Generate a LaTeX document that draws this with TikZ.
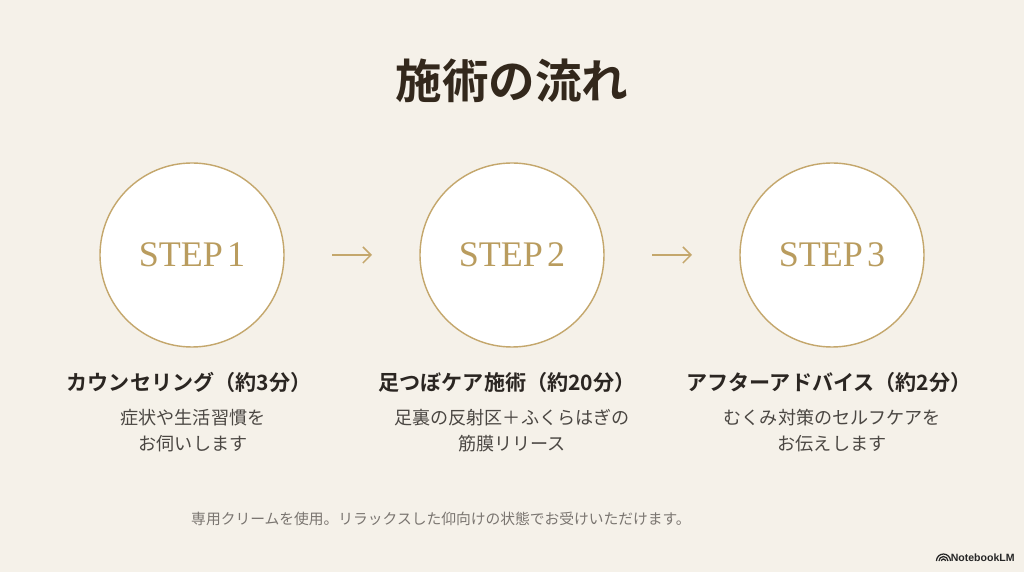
\documentclass[tikz,border=0pt]{standalone}
\usepackage{fontspec}
\setmainfont{Noto Sans CJK JP}[BoldFont={Noto Sans CJK JP Bold}]
\newfontfamily\stepfont{Liberation Serif}
\newfontfamily\logofont{Liberation Sans}
\usetikzlibrary{arrows.meta,positioning}
\definecolor{flowcream}{HTML}{F5F1E9}
\definecolor{flowgold}{HTML}{C4A76C}
\definecolor{flowstep}{HTML}{B99C5E}
\definecolor{flowink}{HTML}{33281C}
\definecolor{flowtext}{HTML}{2B2622}
\definecolor{flowgray}{HTML}{4B4743}
\definecolor{flowfoot}{HTML}{7A7570}
\newcommand{\steplabel}[1]{STEP\hspace{0.12em}#1}
\tikzset{
  heading/.style={font=\fontsize{26.5}{30}\selectfont\bfseries, text=flowink, inner sep=0pt},
  stepcircle/.style={circle, draw=flowgold, line width=0.8pt, fill=white,
    minimum size=3.68cm, inner sep=0pt, outer sep=0pt,
    font=\stepfont\fontsize{20.5}{23}\selectfont, text=flowstep},
  steparrow/.style={-{Straight Barb[length=1.6mm, width=3.2mm]}, line width=0.9pt,
    flowgold, shorten <=0.96cm, shorten >=0.96cm},
  steptitle/.style={font=\fontsize{12}{14}\selectfont\bfseries, text=flowtext, inner sep=0pt},
  stepnote/.style={font=\fontsize{10.3}{14.7}\selectfont, text=flowgray, align=center, inner sep=0pt},
  footnote/.style={font=\fontsize{8.4}{10}\selectfont, text=flowfoot, inner sep=0pt},
  logo/.style={font=\logofont\fontsize{6}{7}\selectfont\bfseries, text=black!85, inner sep=0pt},
}
\begin{document}
\begin{tikzpicture}
\fill[flowcream] (0,0) rectangle (20.48,-11.44);
\useasboundingbox (0,0) rectangle (20.48,-11.44);

\node[heading] (head) at (10.24,-1.62) {施術の流れ};

% three steps
\node[stepcircle] (s1) at (3.84,-5.1) {\steplabel{1}};
\node[stepcircle, right=2.72cm of s1] (s2) {\steplabel{2}};
\node[stepcircle, right=2.72cm of s2] (s3) {\steplabel{3}};

\foreach \a/\b in {s1/s2, s2/s3} {
  \draw[steparrow] (\a) -- (\b);
}

\node[steptitle, below=0.5cm of s1, xshift=-0.06cm] (t1) {カウンセリング（約3分）};
\node[steptitle, below=0.5cm of s2, xshift=-0.1cm] (t2) {足つぼケア施術（約20分）};
\node[steptitle, below=0.5cm of s3, xshift=-0.06cm] (t3) {アフターアドバイス（約2分）};

\node[stepnote, below=0.32cm of t1, xshift=0.08cm] (d1) {症状や生活習慣を\\お伺いします};
\node[stepnote, below=0.32cm of t2, xshift=0.1cm] (d2) {足裏の反射区＋ふくらはぎの\\筋膜リリース};
\node[stepnote, below=0.32cm of t3, xshift=0.06cm] (d3) {むくみ対策のセルフケアを\\お伝えします};

\node[footnote] (foot) at (8.82,-10.38)
  {専用クリームを使用。リラックスした仰向けの状態でお受けいただけます。};

% watermark
\node[logo, anchor=east] (logo) at (20.3,-11.15) {NotebookLM};
\coordinate[left=0.14cm of logo.west] (mark);
\foreach \r in {0.04,0.09,0.14} {
  \draw[black!85, line width=0.7pt] ([yshift=-0.07cm]mark) ++(\r,0) arc (0:180:\r);
}

\end{tikzpicture}
\end{document}
